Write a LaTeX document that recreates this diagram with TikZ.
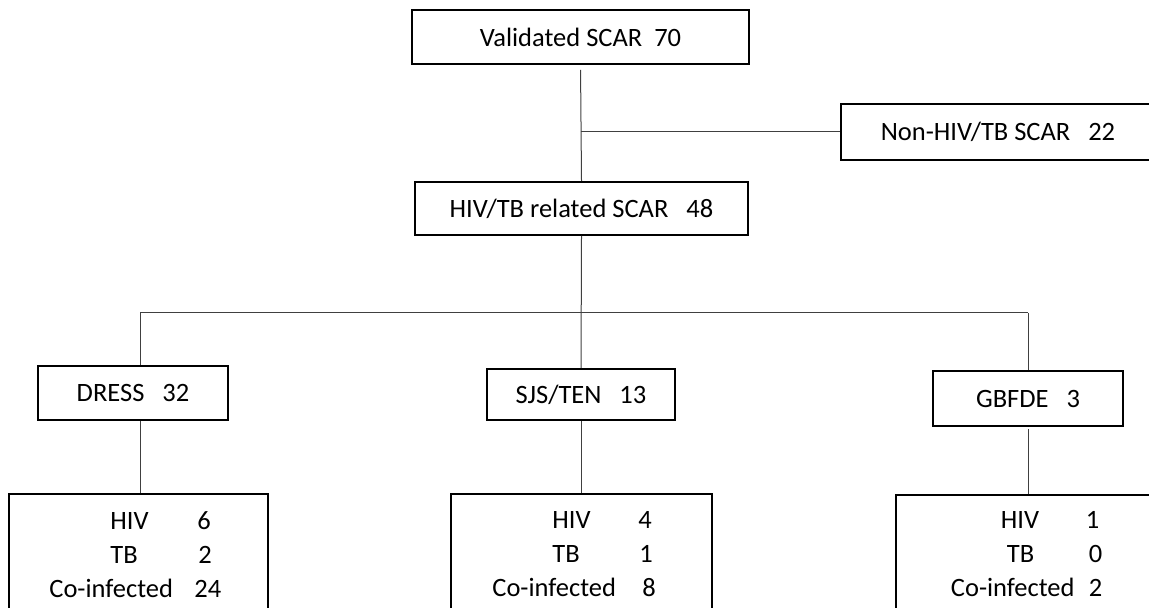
\documentclass[tikz,border=0pt]{standalone}
\usepackage{fontspec}
\setmainfont{Carlito}
\usepackage{tikz}

% one row of counts: indent, label, start of number, number
\newcommand{\statrow}[4]{\makebox[#3pt][l]{\hspace*{#1pt}#2}#4}

\begin{document}
\begin{tikzpicture}[
  x=0.5pt, y=-0.5pt,
  font=\fontsize{13.25}{17}\selectfont,
  box/.style={draw, line width=1pt, inner sep=0pt, align=center},
  link/.style={draw=black!75, line width=0.5pt},
  rows/.style={align=left, text width=110pt, inner sep=0pt, anchor=base west}
]
\useasboundingbox (0,0) rectangle (1149,608);
\clip (0,0) rectangle (1149,608);

\node[box, minimum width=168.5pt, minimum height=27pt] (valid) at (580.5,37) {Validated SCAR~~70};
\node[box, minimum width=157pt, minimum height=28pt] (nonhiv) at (998,132) {Non-HIV/TB SCAR~~~22};
\node[box, minimum width=166.5pt, minimum height=26.5pt] (hivtb) at (581.5,208.5) {HIV/TB related SCAR~~~48};

\node[box, minimum width=95pt, minimum height=27pt] (dress) at (133,393) {DRESS~~~32};
\node[box, minimum width=94pt, minimum height=25.5pt] (sjs) at (581,394.5) {SJS/TEN~~~13};
\node[box, minimum width=95pt, minimum height=27.5pt] (gbfde) at (1028,398.5) {GBFDE~~~3};

\node[box, minimum width=129.5pt, minimum height=70pt] (bdress) at (138.5,564) {};
\node[box, minimum width=130.5pt, minimum height=70pt] (bsjs) at (581.5,564) {};
\node[box, minimum width=134.5pt, minimum height=70pt] (bgbfde) at (1030.5,565) {};

\node[rows] (rdress) at (49,529) {\statrow{30.5}{HIV}{74}{6}\\ \statrow{30.5}{TB}{74.5}{2}\\ \statrow{0}{Co-infected}{72.5}{24}};
\node[rows] (rsjs) at (492,528) {\statrow{30}{HIV}{73}{4}\\ \statrow{30}{TB}{73.5}{1}\\ \statrow{0}{Co-infected}{75}{8}};
\node[rows] (rgbfde) at (950.5,528) {\statrow{25}{HIV}{67.5}{1}\\ \statrow{28}{TB}{69}{0}\\ \statrow{0}{Co-infected}{69}{2}};

\coordinate (jd) at (140,313);
\coordinate (jg) at (1028,313);

\draw[link, shorten <=2.5pt] (valid.south) -- (hivtb.north);
\draw[link] (valid.south |- nonhiv.west) -- (nonhiv.west);
\draw[link] (hivtb.south) -- (sjs.north);
\draw[link] (jd) -- (jg);
\draw[link] (jd) -- (jd |- dress.north);
\draw[link] (jg) -- (gbfde.north);
\draw[link] (jd |- dress.south) -- (jd |- bdress.north);
\draw[link] (sjs.south) -- (sjs.south |- bsjs.north);
\draw[link, shorten <=1pt] (gbfde.south) -- (gbfde.south |- bgbfde.north);
\end{tikzpicture}
\end{document}
